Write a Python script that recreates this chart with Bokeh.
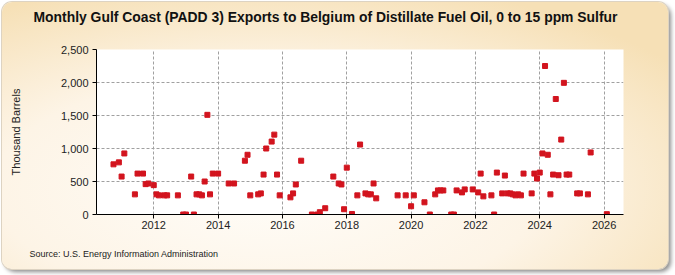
import pandas as pd
from bokeh.plotting import figure
from bokeh.models import (ColumnDataSource, Range1d, FixedTicker, DatetimeTickFormatter,
                          NumeralTickFormatter, Title)
from bokeh.embed import file_html
from bokeh.resources import INLINE

# Monthly exports, thousand barrels
months = [
    "2010-10", "2010-12", "2011-01", "2011-02", "2011-06", "2011-07", "2011-09", "2011-10",
    "2011-11", "2012-01", "2012-02", "2012-03", "2012-05", "2012-06", "2012-10", "2012-12",
    "2013-01", "2013-03", "2013-04", "2013-05", "2013-06", "2013-07", "2013-08", "2013-09",
    "2013-10", "2013-11", "2014-01", "2014-05", "2014-07", "2014-11", "2014-12", "2015-01",
    "2015-04", "2015-05", "2015-06", "2015-07", "2015-09", "2015-10", "2015-11", "2015-12",
    "2016-04", "2016-05", "2016-06", "2016-08", "2016-12", "2017-02", "2017-03", "2017-05",
    "2017-08", "2017-10", "2017-11", "2017-12", "2018-01", "2018-03", "2018-05", "2018-06",
    "2018-08", "2018-09", "2018-10", "2018-11", "2018-12", "2019-08", "2019-11", "2020-01",
    "2020-02", "2020-06", "2020-08", "2020-10", "2020-11", "2020-12", "2021-01", "2021-04",
    "2021-05", "2021-06", "2021-08", "2021-09", "2021-12", "2022-02", "2022-03", "2022-04",
    "2022-07", "2022-08", "2022-09", "2022-11", "2022-12", "2023-01", "2023-02", "2023-03",
    "2023-04", "2023-05", "2023-06", "2023-07", "2023-10", "2023-11", "2023-12", "2024-01",
    "2024-02", "2024-03", "2024-04", "2024-05", "2024-06", "2024-07", "2024-08", "2024-09",
    "2024-10", "2024-11", "2024-12", "2025-03", "2025-04", "2025-07", "2025-08", "2026-02",
]
exports = [
    760, 790, 575, 925, 305, 620, 620, 460,
    470, 445, 305, 290, 290, 290, 290, 0,
    0, 575, 0, 305, 305, 290, 500, 1510,
    305, 620, 620, 470, 470, 815, 905, 290,
    305, 320, 605, 1000, 1105, 1210, 605, 290,
    260, 320, 455, 815, 0, 0, 35, 95,
    575, 470, 455, 80, 710, 8, 290, 1060,
    320, 305, 305, 470, 245, 290, 290, 125,
    290, 185, 0, 305, 365, 365, 365, 0,
    0, 365, 335, 380, 380, 335, 620, 275,
    290, 0, 635, 320, 590, 320, 320, 305,
    290, 305, 290, 620, 320, 620, 545, 635,
    925, 2250, 905, 305, 605, 1750, 595, 1135,
    1995, 605, 605, 320, 320, 305, 940, 5,
]

tick_years = [2012, 2014, 2016, 2018, 2020, 2022, 2024, 2026]
y_ticks = [0, 500, 1000, 1500, 2000, 2500]

title_text = ("Monthly Gulf Coast (PADD 3) Exports to Belgium of Distillate Fuel Oil, "
              "0 to 15 ppm Sulfur")
source_text = "Source: U.S. Energy Information Administration"

FONT = "Liberation Sans"
BLANK = "\u00a0"  # empty spacer line, keeps the panel text away from the frame

source = ColumnDataSource(dict(date=pd.to_datetime(months, format="%Y-%m"), value=exports))
tick_ms = [pd.Timestamp(f"{y}-01-01").value // 10**6 for y in tick_years]

p = figure(
    width=666, height=267,
    x_axis_type="datetime",
    x_range=Range1d(pd.Timestamp("2010-03-22"), pd.Timestamp("2026-08-09")),
    y_range=Range1d(0, 2500),
    output_backend="svg", toolbar_location=None,
    min_border_left=94, min_border_right=45, min_border_top=46, min_border_bottom=55,
)

# panel look: warm gradient card with rounded corners and a drop shadow
p.styles = {
    "margin": "2px 0 0 2px",
    "border-radius": "10px",
    "background": "radial-gradient(ellipse 75% 80% at 40% 70%, #fffdf9 0%, #fdf4e6 55%, #f6e0b6 100%)",
    "box-shadow": "0 0 0 1px #ddd3c2, 3px 3px 4px rgba(0,0,0,0.45)",
}
p.border_fill_alpha = 0
p.background_fill_color = "white"
p.outline_line_color = None

p.scatter("date", "value", source=source, marker="square", size=5,
          fill_color="#d2141e", line_color="#d2141e")

# axes
p.xaxis.ticker = FixedTicker(ticks=tick_ms)
p.xaxis.formatter = DatetimeTickFormatter(years="%Y", months="%Y", days="%Y")
p.yaxis.ticker = FixedTicker(ticks=y_ticks)
p.yaxis.formatter = NumeralTickFormatter(format="0,0")
for ax in (p.xaxis[0], p.yaxis[0]):
    ax.axis_line_color = "black"
    ax.major_tick_line_color = "black"
    ax.minor_tick_line_color = None
    ax.major_tick_in = 0
    ax.major_tick_out = 4
    ax.major_label_text_font = FONT
    ax.major_label_text_font_size = "11px"
    ax.major_label_text_color = "#222222"
p.xaxis.major_label_standoff = 2
p.yaxis.major_label_standoff = 4

p.yaxis.axis_label = "Thousand Barrels"
p.yaxis.axis_label_text_font = FONT
p.yaxis.axis_label_text_font_size = "11px"
p.yaxis.axis_label_text_font_style = "normal"
p.yaxis.axis_label_text_color = "#222222"
p.yaxis.axis_label_standoff = 36

# grid
p.xgrid.ticker = FixedTicker(ticks=tick_ms)
p.ygrid.ticker = FixedTicker(ticks=y_ticks)
for g in (p.xgrid[0], p.ygrid[0]):
    g.grid_line_color = "#a0a0a0"
    g.grid_line_dash = "3 2"
    g.grid_line_width = 1

# chart title (top) and source note (bottom)
p.title = Title(text=title_text + "\n" + BLANK, align="left", offset=-63,
                vertical_align="top", standoff=13,
                text_font=FONT, text_font_size="13.9px", text_font_style="bold",
                text_color="#111111")
p.add_layout(Title(text=BLANK + "\n" + source_text, align="left", offset=-67,
                   vertical_align="bottom", standoff=10,
                   text_font=FONT, text_font_size="9px", text_font_style="normal",
                   text_color="#222222"), "below")

open("out.html", "w").write(file_html(p, INLINE))
